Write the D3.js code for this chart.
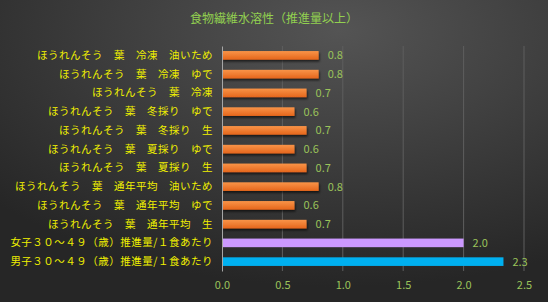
<!DOCTYPE html>
<html>
<head>
<meta charset="utf-8">
<script src="https://cdn.jsdelivr.net/npm/d3@7"></script>
<style>
  body { margin: 0; background: #333; }
  svg text { font-family: "Noto Sans CJK JP", "Noto Sans", sans-serif; }
</style>
</head>
<body>
<div id="chart"></div>
<script>
const categories = [
    "ほうれんそう　葉　冷凍　油いため",
    "ほうれんそう　葉　冷凍　ゆで",
    "ほうれんそう　葉　冷凍",
    "ほうれんそう　葉　冬採り　ゆで",
    "ほうれんそう　葉　冬採り　生",
    "ほうれんそう　葉　夏採り　ゆで",
    "ほうれんそう　葉　夏採り　生",
    "ほうれんそう　葉　通年平均　油いため",
    "ほうれんそう　葉　通年平均　ゆで",
    "ほうれんそう　葉　通年平均　生",
    "女子３０～４９（歳）推進量/１食あたり",
    "男子３０～４９（歳）推進量/１食あたり"
];
const values = [0.8, 0.8, 0.7, 0.6, 0.7, 0.6, 0.7, 0.8, 0.6, 0.7, 2.0, 2.33];
const barKinds = ["food", "food", "food", "food", "food", "food", "food", "food", "food", "food", "female", "male"];
const xTicks = [0, 0.5, 1.0, 1.5, 2.0, 2.5];
const title = "食物繊維水溶性（推進量以上）";

const W = 548, H = 302;
const margin = { top: 46, right: 24, bottom: 31, left: 222 };
const width = W - margin.left - margin.right;
const height = H - margin.top - margin.bottom;

const root = d3.select("#chart").append("svg")
    .attr("width", W)
    .attr("height", H);

const defs = root.append("defs");
const bg = defs.append("radialGradient").attr("id", "bg")
    .attr("cx", "62%").attr("cy", "10%").attr("r", "85%");
bg.append("stop").attr("offset", "0%").attr("stop-color", "#545454");
bg.append("stop").attr("offset", "100%").attr("stop-color", "#262626");

const og = defs.append("linearGradient").attr("id", "orange")
    .attr("x1", 0).attr("y1", 0).attr("x2", 0).attr("y2", 1);
og.append("stop").attr("offset", "0%").attr("stop-color", "#f99448");
og.append("stop").attr("offset", "100%").attr("stop-color", "#e5661c");

const shadow = defs.append("filter").attr("id", "shadow")
    .attr("x", "-10%").attr("y", "-30%").attr("width", "120%").attr("height", "180%");
shadow.append("feDropShadow")
    .attr("dx", 1).attr("dy", 2).attr("stdDeviation", 1)
    .attr("flood-color", "#000").attr("flood-opacity", 0.6);

root.append("rect").attr("width", W).attr("height", H).attr("fill", "url(#bg)");

root.append("text")
    .attr("x", 274).attr("y", 23)
    .attr("text-anchor", "middle")
    .attr("fill", "#92d050")
    .attr("font-size", 12)
    .text(title);

const svg = root.append("g")
    .attr("transform", `translate(${margin.left},${margin.top})`);

const x = d3.scaleLinear().domain([0, 2.5]).range([0, 302]);
const y = d3.scaleBand().domain(categories).range([0, height]).paddingInner(0.54).paddingOuter(0.27);

// gridlines
svg.selectAll(".grid")
    .data(xTicks.slice(1))
    .join("line")
    .attr("x1", d => x(d)).attr("x2", d => x(d))
    .attr("y1", 0).attr("y2", height)
    .attr("stroke", "#5e5e5e")
    .attr("stroke-width", 1);

const xAxis = svg.append("g")
    .attr("transform", `translate(0,${height})`)
    .call(d3.axisBottom(x).tickValues(xTicks).tickFormat(d3.format(".1f")).tickSize(0).tickPadding(10));
xAxis.select(".domain").remove();
xAxis.selectAll("text").attr("fill", "#9bc35a").attr("font-size", 11);

const colorOf = { food: "url(#orange)", female: "#cc99ff", male: "#00b0f0" };

svg.selectAll(".bar")
    .data(values)
    .join("rect")
    .attr("x", 0)
    .attr("y", (d, i) => y(categories[i]))
    .attr("width", d => x(d))
    .attr("height", y.bandwidth())
    .attr("fill", (d, i) => colorOf[barKinds[i]])
    .attr("filter", (d, i) => barKinds[i] === "food" ? "url(#shadow)" : null);

svg.selectAll(".val")
    .data(values)
    .join("text")
    .attr("x", d => x(d) + 9)
    .attr("y", (d, i) => y(categories[i]) + y.bandwidth() / 2)
    .attr("dy", "0.36em")
    .attr("fill", "#9bc35a")
    .attr("font-size", 11)
    .text(d => d3.format(".1f")(d));

const yAxis = svg.append("g")
    .call(d3.axisLeft(y).tickSize(0).tickPadding(9));
yAxis.select(".domain").attr("stroke", "#a6a6a6");
yAxis.selectAll("text")
    .attr("fill", "#f0f000")
    .attr("font-size", 10.5)
    .attr("letter-spacing", 0.5);
</script>
</body>
</html>
